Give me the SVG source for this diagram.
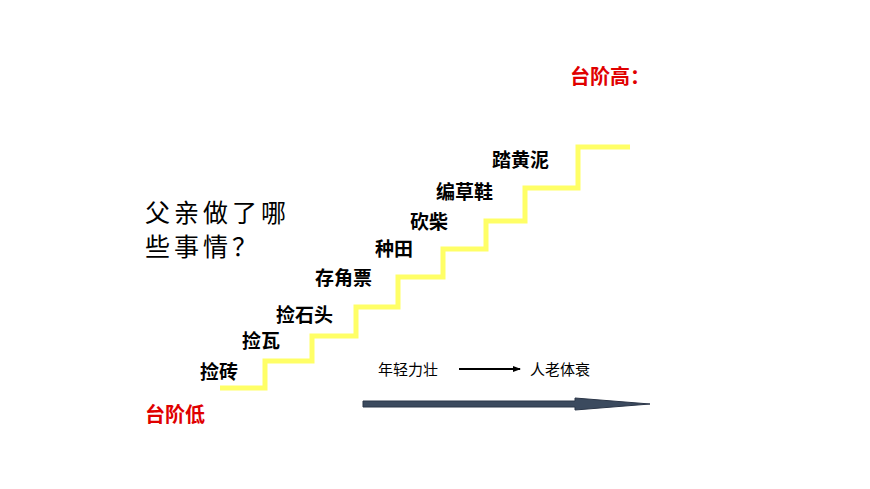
<svg xmlns="http://www.w3.org/2000/svg" width="870" height="489" viewBox="0 0 870 489">
<style>
.s{font-family:"Liberation Sans","Noto Sans CJK SC",sans-serif;font-weight:bold;font-size:19px;fill:#000}
.r{font-family:"Liberation Sans","Noto Sans CJK SC",sans-serif;font-weight:bold;font-size:20px;fill:#e00000}
.q{font-family:"Noto Sans CJK SC",sans-serif;font-size:25px;fill:#000;letter-spacing:4px}
.t{font-family:"Liberation Sans","Noto Sans CJK SC",sans-serif;font-size:15px;fill:#000}
</style>
<defs><marker id="a" markerWidth="8" markerHeight="8" refX="7" refY="4" orient="auto" markerUnits="userSpaceOnUse"><path d="M0,1L8,4L0,7z" fill="#000"/></marker></defs>
<rect width="870" height="489" fill="#fff"/>
<g id="connectors">
<path id="stairs" d="M220,388H265V361H312V336H356V307H398V277H443V249H486V221H525V188H578V147H630" fill="none" stroke="#ffff66" stroke-width="5"/>
<path d="M459,369H520" stroke="#000" stroke-width="2" marker-end="url(#a)"/>
<path id="timearrow" d="M363,401H575V398L650,404L575,410V407H363Z" fill="#3b4a5e" stroke="#2b3648"/>
</g>
<g id="labels">
<text class="s" x="200" y="379">捡砖</text>
<text class="s" x="242" y="348">捡瓦</text>
<text class="s" x="276" y="322">捡石头</text>
<text class="s" x="315" y="285">存角票</text>
<text class="s" x="375" y="256">种田</text>
<text class="s" x="410" y="229">砍柴</text>
<text class="s" x="436" y="199">编草鞋</text>
<text class="s" x="492" y="167">踏黄泥</text>
<text class="q" x="145" y="222">父亲做了哪</text>
<text class="q" x="145" y="256">些事情？</text>
<text class="r" x="570" y="84">台阶高：</text>
<text class="r" x="145" y="422">台阶低</text>
<text class="t" x="378" y="375">年轻力壮</text>
<text class="t" x="530" y="375">人老体衰</text>
</g>
</svg>
